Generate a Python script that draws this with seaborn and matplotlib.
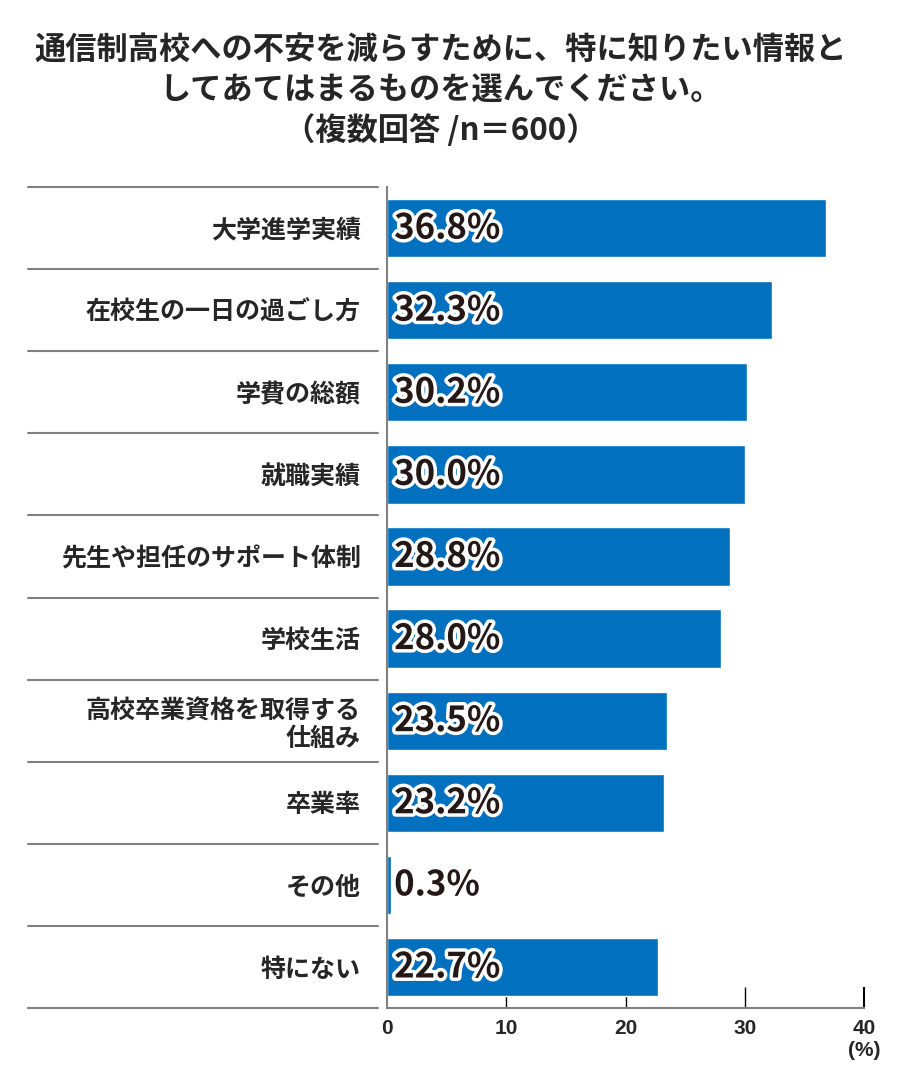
import matplotlib
matplotlib.use("Agg")
import matplotlib.pyplot as plt
import matplotlib.patheffects as pe
from matplotlib.lines import Line2D
import seaborn as sns
import pandas as pd

sns.set_theme(style="white")
plt.rcParams['font.family'] = ['Noto Sans CJK JP', 'DejaVu Sans']

# data
categories = ['大学進学実績', '在校生の一日の過ごし方', '学費の総額', '就職実績',
              '先生や担任のサポート体制', '学校生活', '高校卒業資格を取得する\n仕組み',
              '卒業率', 'その他', '特にない']
values = [36.8, 32.3, 30.2, 30.0, 28.8, 28.0, 23.5, 23.2, 0.3, 22.7]
x_ticks = [0, 10, 20, 30, 40]

df = pd.DataFrame({'item': categories, 'pct': values})

fig = plt.figure(figsize=(9, 10.9), dpi=100)
ax = fig.add_axes([0.43, 0.0752, 0.53, 0.7532])

sns.barplot(data=df, y='item', x='pct', orient='h', color='#0070BF',
            saturation=1, width=0.71, ax=ax)

ax.set_xlim(0, 40)
ax.set_ylim(9.5, -0.5)
ax.set_xlabel('')
ax.set_ylabel('')

# spines
for s in ['top', 'right']:
    ax.spines[s].set_visible(False)
for s in ['left', 'bottom']:
    ax.spines[s].set_color('#808080')
    ax.spines[s].set_linewidth(1.5)

# x ticks pointing up into the plot
ax.set_xticks(x_ticks)
ax.set_xticklabels([str(t) for t in x_ticks], fontsize=15, fontweight='bold',
                   family=['Liberation Sans', 'DejaVu Sans'])
ax.tick_params(axis='x', bottom=True, direction='in', length=15, width=1,
               color='black', pad=8)
xt = ax.xaxis.get_major_ticks()
xt[0].tick1line.set_visible(False)
xt[-1].tick1line.set_color('#808080')
xt[-1].tick1line.set_markeredgewidth(1.5)
ax.text(40, -0.04, '(%)', transform=ax.get_xaxis_transform(), ha='center', va='top',
        fontsize=15, fontweight='bold', family=['Liberation Sans', 'DejaVu Sans'])

# category labels
ax.set_yticks(range(len(categories)))
ax.set_yticklabels(categories, fontsize=18, fontweight='bold', ha='right',
                   linespacing=1.2)
ax.tick_params(axis='y', left=False, length=0, pad=19)

# separator lines to the left of the axis
trans = ax.get_yaxis_transform()
for b in [i - 0.5 for i in range(len(categories) + 1)]:
    ax.add_line(Line2D([-0.753, -0.019], [b, b], transform=trans, color='#808080',
                       lw=1.5, clip_on=False))

# value labels
for i, v in enumerate(values):
    ax.text(0.6, i, f'{v}%', ha='left', va='center', fontsize=25,
            fontweight='bold', color='#231815',
            path_effects=[pe.withStroke(linewidth=5, foreground='white')])

fig.text(0.49, 0.968, '通信制高校への不安を減らすために、特に知りたい情報と\n'
         'してあてはまるものを選んでください。\n（複数回答 /n＝600）',
         ha='center', va='top', fontsize=22.5, fontweight='bold', linespacing=1.3)

fig.savefig('out.png', dpi=100)
